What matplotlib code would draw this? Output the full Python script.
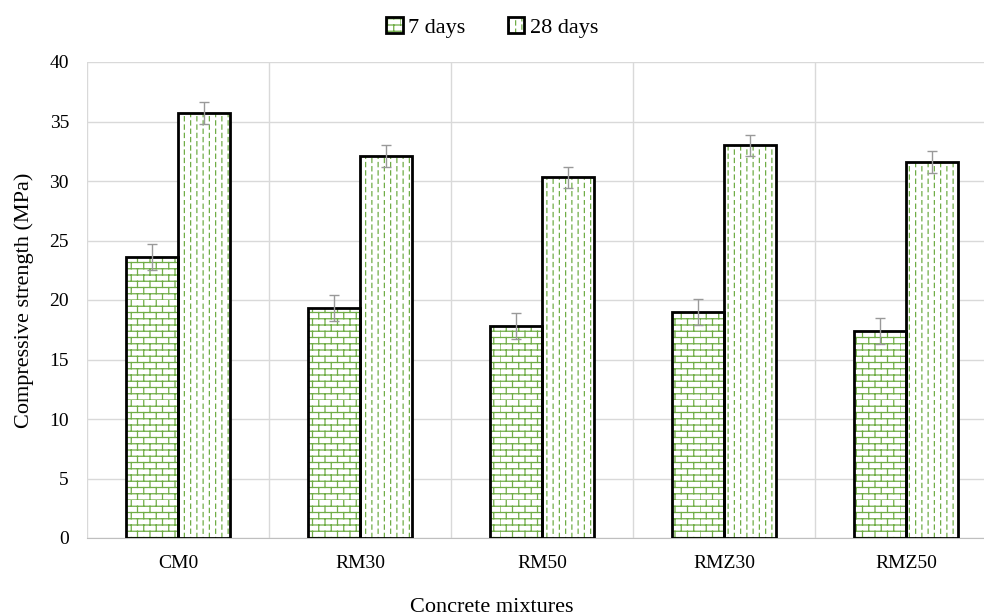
import numpy as np
import matplotlib
matplotlib.use("Agg")
import matplotlib.pyplot as plt
from matplotlib import hatch as mhatch
from matplotlib.path import Path
from matplotlib.patches import Patch
from matplotlib.legend_handler import HandlerTuple

# data
mixes = ["CM0", "RM30", "RM50", "RMZ30", "RMZ50"]
days7 = [23.6, 19.3, 17.8, 19.0, 17.4]
days28 = [35.7, 32.1, 30.3, 33.0, 31.6]
err7 = [1.1, 1.1, 1.1, 1.1, 1.1]
err28 = [0.9, 0.9, 0.9, 0.9, 0.9]


# custom hatch patterns: 'b' = brick, 'd' = vertical dashes
class BrickHatch(mhatch.HatchPatternBase):
    rows, cols = 16, 8

    def __init__(self, hatch, density):
        self.on = 'b' in hatch
        self.num_vertices = (2 * self.rows + 2 * self.rows * self.cols) if self.on else 0

    def set_vertices_and_codes(self, vertices, codes):
        k = 0
        for i in range(self.rows):
            y = i / self.rows
            vertices[k] = (0, y); vertices[k + 1] = (1, y)
            codes[k] = Path.MOVETO; codes[k + 1] = Path.LINETO
            k += 2
            for j in range(self.cols):
                x = (j + 0.5 * (i % 2)) / self.cols
                vertices[k] = (x, y); vertices[k + 1] = (x, y + 1 / self.rows)
                codes[k] = Path.MOVETO; codes[k + 1] = Path.LINETO
                k += 2


class DashHatch(mhatch.HatchPatternBase):
    cols, dashes = 16, 12

    def __init__(self, hatch, density):
        self.on = 'd' in hatch
        self.num_vertices = 2 * self.cols * self.dashes if self.on else 0

    def set_vertices_and_codes(self, vertices, codes):
        k = 0
        p = 1 / self.dashes
        for i in range(self.cols):
            x = (i + 0.5) / self.cols
            off = 0.5 * p * (i % 2)
            for j in range(self.dashes):
                y0 = j * p + off
                vertices[k] = (x, y0); vertices[k + 1] = (x, y0 + 0.5 * p)
                codes[k] = Path.MOVETO; codes[k + 1] = Path.LINETO
                k += 2


mhatch._hatch_types.append(BrickHatch)
mhatch._hatch_types.append(DashHatch)

plt.rcParams['font.family'] = ['Liberation Serif', 'DejaVu Serif']
plt.rcParams['hatch.linewidth'] = 0.9

green = '#70AD47'
fig = plt.figure(figsize=(9.84, 6.16), dpi=100)
ax = fig.add_axes([87 / 984, 78 / 616, 910 / 984, 476 / 616])

x = np.arange(len(mixes))
w = 0.286

# hatch layer, then black outline on top
ax.bar(x - w / 2, days7, w, color='white', edgecolor=green, hatch='b', linewidth=0, zorder=3)
ax.bar(x + w / 2, days28, w, color='white', edgecolor=green, hatch='d', linewidth=0, zorder=3)
ax.bar(x - w / 2, days7, w, fill=False, edgecolor='black', linewidth=2, zorder=4)
ax.bar(x + w / 2, days28, w, fill=False, edgecolor='black', linewidth=2, zorder=4)
ax.errorbar(x - w / 2, days7, yerr=err7, fmt='none', ecolor='#999999', capsize=3.5, elinewidth=1, zorder=5)
ax.errorbar(x + w / 2, days28, yerr=err28, fmt='none', ecolor='#999999', capsize=3.5, elinewidth=1, zorder=5)

ax.set_xlim(-0.5, len(mixes) - 0.5)
ax.set_ylim(0, 40)
ax.set_yticks(range(0, 41, 5))
ax.set_xticks(x)
ax.set_xticklabels(mixes)
ax.set_xticks(np.arange(-0.5, len(mixes), 1), minor=True)
ax.grid(axis='y', color='#d9d9d9', linewidth=1, zorder=0)
ax.grid(axis='x', which='minor', color='#d9d9d9', linewidth=1, zorder=0)
ax.tick_params(axis='both', which='both', length=0, labelsize=14)
ax.tick_params(axis='x', pad=12)
ax.tick_params(axis='y', pad=13)
for s in ['top', 'right', 'left']:
    ax.spines[s].set_visible(False)
ax.spines['bottom'].set_color('#bfbfbf')
ax.set_axisbelow(True)

fig.text(0.5, -1 / 616, 'Concrete mixtures', ha='center', va='bottom', fontsize=16)
ax.set_ylabel('Compressive strength (MPa)', fontsize=16, labelpad=11)

h7 = (Patch(facecolor='white', edgecolor=green, hatch='b', linewidth=0),
      Patch(fill=False, edgecolor='black', linewidth=2))
h28 = (Patch(facecolor='white', edgecolor=green, hatch='d', linewidth=0),
       Patch(fill=False, edgecolor='black', linewidth=2))
fig.legend([h7, h28], ['7 days', '28 days'], loc='upper center', bbox_to_anchor=(0.5, 1.005),
           ncol=2, frameon=False, fontsize=16, handlelength=0.75, handleheight=0.75,
           handletextpad=0.25, columnspacing=1.9,
           handler_map={tuple: HandlerTuple(ndivide=1, pad=0)})

fig.savefig('out.png', dpi=100)
